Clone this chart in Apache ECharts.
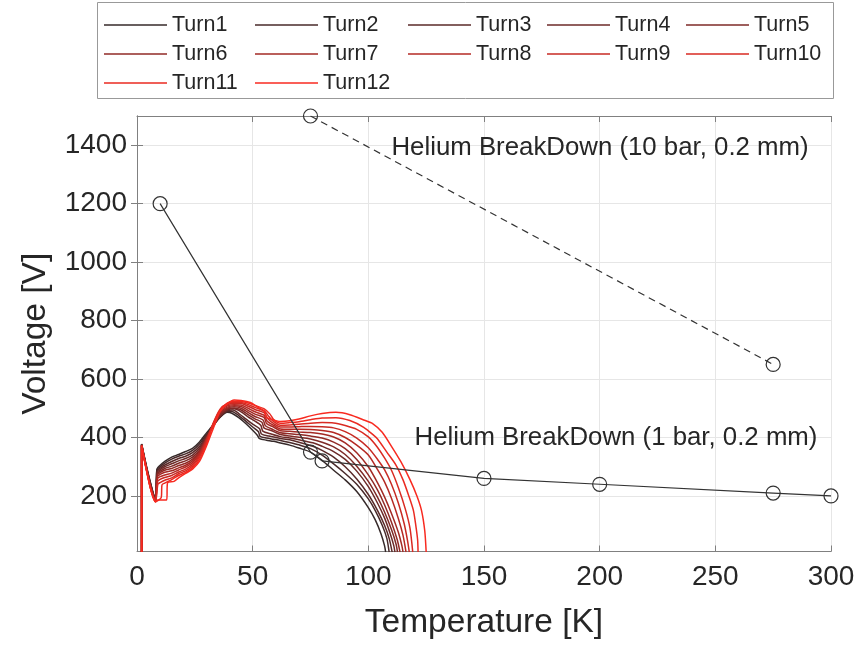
<!DOCTYPE html>
<html>
<head>
<meta charset="utf-8">
<script src="https://cdn.jsdelivr.net/npm/echarts@6/dist/echarts.min.js"></script>
<style>
html,body{margin:0;padding:0;background:#fff}
#chart{width:858px;height:645px}
</style>
</head>
<body>
<div id="chart"></div>
<script>
// ---- data: [temperature K, voltage V] per turn ----
const turnNames = ['Turn1','Turn2','Turn3','Turn4','Turn5','Turn6','Turn7','Turn8','Turn9','Turn10','Turn11','Turn12'];

const turn01 = [[2,8],[2,378],[4,305],[6,240],[8,186],[8.6,292],[10,305],[12,318],[15,333],[18,342],[21,352],[24,363],[27,385],[30,415],[33,444],[36,470],[39,486],[41,483],[44,468],[47,448],[50,425],[52,408],[53,396],[56,391],[59,387],[62,381],[66,374],[70,364],[75,350],[80,322],[85,288],[90,255],[95,215],[100,160],[103,118],[105.5,70],[107,30],[107.5,8]];
const turn02 = [[2,8],[2,377],[4,303],[6,238],[8,185],[8.6,288],[10,300],[12,312],[15,326],[18,336],[21,344],[24,356],[27,378],[30,410],[33,442],[36,470],[39,489],[41,489],[44,475],[47,456],[50,436],[52.5,420],[53.2,404],[56,398],[59,394],[62,390],[66,383],[70,375],[75,362],[80,340],[85,310],[90,277],[95,240],[100,190],[103,150],[106,100],[108,55],[109,8]];
const turn03 = [[2,8],[2,376],[4,301],[6,236],[8,184],[8.7,284],[10,295],[12,306],[15,318],[18,328],[21,336],[24,348],[27,370],[30,406],[33,440],[36,471],[39,491],[41.5,494],[44,482],[47,464],[50,446],[53,430],[53.8,412],[57,405],[60,400],[62,397],[66,392],[70,384],[76,370],[80,356],[85,333],[90,300],[95,258],[100,205],[104,150],[107,100],[109,55],[110.3,8]];
const turn04 = [[2,8],[2,375],[4,299],[6,234],[8,183],[8.7,280],[10,290],[12,300],[15,310],[18,320],[21,328],[24,340],[27,363],[30,402],[33,440],[36,474],[39,494],[42,498],[45,488],[48,471],[51,456],[53.5,442],[54.4,422],[58,412],[62,403],[66,398],[70,392],[76,382],[80,370],[85,352],[90,325],[95,285],[100,232],[104,175],[107,125],[109.5,70],[111,30],[111.5,8]];
const turn05 = [[2,8],[2,375],[4,298],[6,232],[8,183],[8.7,275],[10,285],[12,294],[15,302],[18,312],[21,320],[24,333],[27,357],[30,398],[33,440],[36,478],[39,497],[42,501],[45,494],[48,478],[51,464],[54,452],[55,432],[58,424],[62,410],[66,405],[70,401],[75,395],[80,384],[85,368],[90,342],[95,302],[100,250],[104,195],[107,145],[110,85],[112,35],[112.6,8]];
const turn06 = [[2,8],[2,374],[4,297],[6,230],[8,182],[8.7,270],[10,280],[12,288],[15,294],[18,304],[21,312],[24,326],[27,352],[30,396],[33,442],[36,482],[39,500],[42,505],[45,500],[48,486],[51,472],[54.5,460],[55.5,440],[58,430],[62,416],[66,413],[70,410],[75,405],[80,398],[85,384],[90,362],[95,325],[100,272],[104,220],[107,170],[110,110],[112.5,50],[113.7,8]];
const turn07 = [[2,8],[2,374],[4,296],[6,228],[8,182],[8.8,265],[10,274],[12,281],[15,286],[18,296],[21,305],[24,320],[27,347],[30,394],[33,444],[36,486],[39,504],[42,509],[45,506],[48,493],[51,480],[55,468],[56,448],[59,436],[62,423],[66,421],[70,419],[75,417],[80,412],[85,402],[90,382],[95,348],[100,300],[104,245],[107,197],[110,140],[113,75],[114.5,30],[115,8]];
const turn08 = [[2,8],[2,373],[4,295],[6,226],[8,181],[8.8,258],[10,266],[12,272],[15,278],[18,289],[21,299],[24,314],[27,342],[30,392],[33,446],[36,490],[39,508],[42,512],[45,511],[48,500],[51,488],[55,476],[56.3,456],[59,442],[62,429],[66,428],[70,428],[75,427],[80,424],[85,417],[90,400],[95,374],[100,340],[104,290],[107,248],[110,192],[113,122],[115,65],[116.3,8]];
const turn09 = [[2,8],[2,373],[4,294],[6,224],[8,181],[8.9,250],[10,257],[12,263],[15,270],[18,282],[21,292],[24,308],[27,337],[30,388],[33,448],[36,494],[39,512],[42,516],[45,516],[48,507],[51,496],[55,484],[56.6,464],[59,448],[62,436],[66,436],[70,437],[75,438],[80,437],[85,433],[90,420],[95,398],[100,365],[104,325],[107,290],[110,240],[113,175],[115.5,105],[117,45],[117.7,8]];
const turn10 = [[2,8],[2,372],[4,293],[6,222],[8,180],[9,240],[10,246],[12,254],[15,262],[18,276],[21,286],[24,302],[27,332],[30,382],[33,450],[36,498],[39,516],[42,520],[45,520],[48,513],[51,503],[55,491],[57,472],[59,455],[62,442],[66,443],[70,445],[75,449],[80,451],[85,450],[90,441],[95,428],[100,402],[104,366],[107,330],[110,288],[113,228],[116,155],[118,90],[119.2,8]];
const turn11 = [[2,8],[2,372],[4,292],[6,221],[8,180],[10.5,195],[10.8,238],[12,244],[15,256],[18,270],[21,281],[24,296],[27,325],[30,376],[33,445],[36,494],[39,518],[42,524],[45,523],[48,518],[51,510],[55,498],[57.5,480],[59,462],[62,449],[66,451],[70,454],[75,461],[80,467],[86,468],[92,458],[98,435],[102,410],[104,395],[108,350],[112,305],[115,255],[117.5,200],[119.5,150],[120.5,100],[121.3,50],[121.5,8]];
const turn12 = [[2,8],[2,371],[4,290],[6,220],[8,180],[9,186],[12.8,186],[13.2,245],[16,250],[18,262],[21,277],[24,292],[27,318],[30,370],[33,432],[36,490],[39,515],[42,528],[45,527],[49,520],[52,505],[55,490],[55.8,470],[58,462],[62,455],[66,457],[70,463],[75,474],[80,482],[86,486],[92,478],[98,460],[102,447],[106,418],[110,370],[114,318],[118,256],[121,200],[123,150],[124.4,80],[125,8]];
const turnCurves = [turn01,turn02,turn03,turn04,turn05,turn06,turn07,turn08,turn09,turn10,turn11,turn12];

// helium breakdown voltage, 0.2 mm gap
const he1barT = [10, 75, 80, 150, 200, 275, 300];
const he1barV = [1200, 350, 320, 260, 240, 210, 200];
const he10barT = [75, 275];
const he10barV = [1500, 650];

// axis ticks
const xTicks = [0, 50, 100, 150, 200, 250, 300];
const yTicks = [200, 400, 600, 800, 1000, 1200, 1400];

// annotations: text with its anchor [T, V]
const annoTexts = ['Helium BreakDown (10 bar, 0.2 mm)', 'Helium BreakDown (1 bar, 0.2 mm)'];
const annoT = [110, 120];
const annoV = [1390, 398];

// ---- styling ----
const FONT = '"Liberation Sans", Arial, sans-serif';
const TEXT = '#262626';
const AXIS = '#808080';
const turnColors = ['#362a2a','#482a2a','#5a2a29','#6c2a28','#7e2a27','#912a26','#a32a25','#b52a24','#c72a23','#d92a22','#ea2a21','#f82a20'];

const series = turnCurves.map((pts, i) => ({
  name: turnNames[i],
  type: 'line',
  data: pts,
  symbol: 'none',
  smooth: 0.25,
  lineStyle: { color: turnColors[i], width: 1.5 },
  itemStyle: { color: turnColors[i] },
  z: 2 + i * 0.01
}));

const markerStyle = { color: 'rgba(0,0,0,0)', borderColor: '#333', borderWidth: 1.2 };
const annoLabel = { show: true, position: 'right', distance: 0, fontFamily: FONT, fontSize: 25.8, color: TEXT };

series.push({
  name: 'He 10 bar',
  type: 'line',
  data: he10barT.map((t, i) => [t, he10barV[i]]),
  symbol: 'circle',
  symbolSize: 14,
  itemStyle: markerStyle,
  lineStyle: { color: '#333', width: 1.2, type: [7, 5] },
  z: 5,
  markPoint: {
    symbol: 'circle', symbolSize: 0, silent: true, label: annoLabel,
    data: [{ coord: [annoT[0], annoV[0]], label: { formatter: annoTexts[0] } }]
  }
});
series.push({
  name: 'He 1 bar',
  type: 'line',
  data: he1barT.map((t, i) => [t, he1barV[i]]),
  symbol: 'circle',
  symbolSize: 14,
  itemStyle: markerStyle,
  lineStyle: { color: '#333', width: 1.2 },
  z: 5,
  markPoint: {
    symbol: 'circle', symbolSize: 0, silent: true, label: annoLabel,
    data: [{ coord: [annoT[1], annoV[1]], label: { formatter: annoTexts[1] } }]
  }
});

// legend laid out as a 5-column grid
const colLeft = [104, 255, 408, 547, 686];
const rowMid = [25, 54, 83];
const legends = turnNames.map((n, i) => ({
  data: [n],
  left: colLeft[i % 5],
  top: rowMid[Math.floor(i / 5)] - 11,
  icon: 'rect',
  itemWidth: 63,
  itemHeight: 1.5,
  padding: 0,
  textStyle: { fontFamily: FONT, fontSize: 21.5, color: TEXT }
}));

const option = {
  animation: false,
  backgroundColor: '#fff',
  grid: { left: 137, right: 27, top: 116, bottom: 93.5 },
  legend: legends,
  graphic: [{
    type: 'rect', z: -10,
    shape: { x: 97.5, y: 2.5, width: 736, height: 96 },
    style: { fill: '#fff', stroke: '#999', lineWidth: 1 }
  }],
  xAxis: [{
    type: 'value', min: 0, max: 300, interval: 50,
    name: 'Temperature [K]', nameLocation: 'middle', nameGap: 54,
    nameTextStyle: { fontFamily: FONT, fontSize: 33.5, color: TEXT },
    axisLine: { show: true, lineStyle: { color: AXIS } },
    axisTick: { show: true, inside: true, length: 6, lineStyle: { color: AXIS } },
    axisLabel: { fontFamily: FONT, fontSize: 28, color: TEXT, margin: 12, customValues: xTicks },
    splitLine: { show: true, lineStyle: { color: '#e6e6e6' } }
  }, {
    type: 'value', min: 0, max: 300, interval: 50, position: 'top',
    axisLine: { show: true, lineStyle: { color: AXIS } },
    axisTick: { show: true, inside: true, length: 6, lineStyle: { color: AXIS } },
    axisLabel: { show: false },
    splitLine: { show: false }
  }],
  yAxis: [{
    type: 'value', min: 10, max: 1500,
    name: 'Voltage [V]', nameLocation: 'middle', nameGap: 84,
    nameTextStyle: { fontFamily: FONT, fontSize: 33.5, color: TEXT },
    axisLine: { show: true, lineStyle: { color: AXIS } },
    axisTick: { show: true, inside: true, length: 6, lineStyle: { color: AXIS }, customValues: yTicks },
    axisLabel: { fontFamily: FONT, fontSize: 28, color: TEXT, margin: 10, customValues: yTicks,
      formatter: v => String(v) },
    splitLine: { show: true, lineStyle: { color: '#e6e6e6' } }
  }, {
    type: 'value', min: 10, max: 1500, position: 'right',
    axisLine: { show: true, lineStyle: { color: AXIS } },
    axisTick: { show: true, inside: true, length: 6, lineStyle: { color: AXIS }, customValues: yTicks },
    axisLabel: { show: false, customValues: yTicks },
    splitLine: { show: false }
  }],
  series: series
};

const chart = echarts.init(document.getElementById('chart'), null, { renderer: 'canvas' });
chart.setOption(option);
</script>
</body>
</html>
